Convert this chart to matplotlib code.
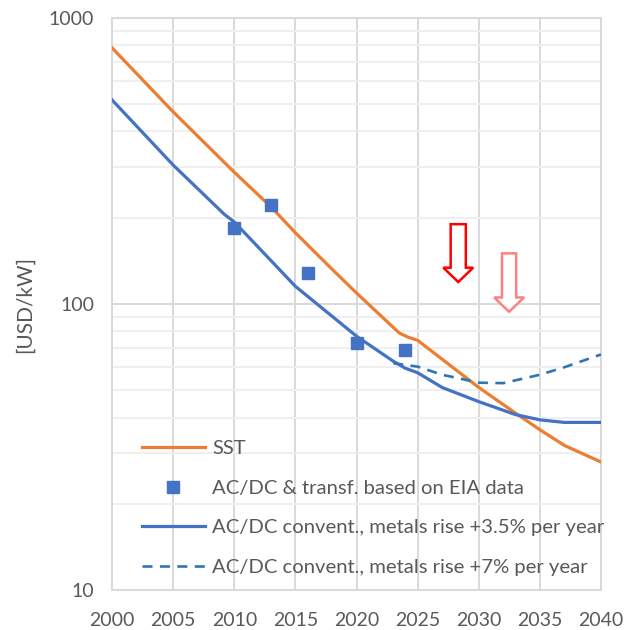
import matplotlib
matplotlib.use('Agg')
import matplotlib.pyplot as plt
from matplotlib.patches import Polygon
from matplotlib.ticker import FixedLocator, NullFormatter, LogLocator

plt.rcParams['font.family'] = ['Lato', 'DejaVu Sans']

# data
sst_year = [2000, 2005, 2010, 2013, 2015, 2018, 2020, 2023.5, 2024.2, 2025, 2030, 2033, 2035, 2037, 2040]
sst_cost = [783, 468, 288, 218, 177, 132, 109, 79, 76.5, 74.5, 51, 41.5, 36.3, 32, 28]

eia_year = [2010, 2013, 2016, 2020, 2024]
eia_cost = [184, 222, 128, 73, 69]

conv35_year = [2000, 2005, 2009.2, 2010, 2015, 2020, 2023, 2024, 2025, 2027, 2030, 2033, 2035, 2037, 2040]
conv35_cost = [515, 305, 205, 193, 115, 77, 63, 59.5, 57.4, 51, 45.5, 41, 39.3, 38.5, 38.5]

conv7_year = [2023, 2025, 2027, 2030, 2032, 2035, 2037, 2040]
conv7_cost = [62, 60.3, 56.5, 53, 52.8, 56.5, 60, 66.5]

x_ticks = [2000, 2005, 2010, 2015, 2020, 2025, 2030, 2035, 2040]

grey_txt = '#595959'
grid_c = '#d9d9d9'

fig = plt.figure(figsize=(6.37, 6.30), dpi=100)
ax = fig.add_axes([0.176, 0.0635, 0.7675, 0.9087])

ax.plot(sst_year, sst_cost, color='#ED7D31', lw=2.3, label='SST', zorder=3)
ax.plot(eia_year, eia_cost, 's', color='#4472C4', ms=8.6, ls='none',
        label='AC/DC & transf. based on EIA data', zorder=4)
ax.plot(conv35_year, conv35_cost, color='#4472C4', lw=2.3,
        label='AC/DC convent., metals rise +3.5% per year', zorder=3)
ax.plot(conv7_year, conv7_cost, color='#2E75B6', lw=1.9, ls=(0, (3.8, 2.8)),
        label='AC/DC convent., metals rise +7% per year', zorder=3)

ax.set_yscale('log')
ax.set_ylim(10, 1000)
ax.set_xlim(2000, 2040)
ax.xaxis.set_major_locator(FixedLocator(x_ticks))
ax.set_yticks([10, 100, 1000])
ax.set_yticklabels(['10', '100', '1000'])
ax.yaxis.set_minor_locator(LogLocator(base=10, subs=range(2, 10)))
ax.yaxis.set_minor_formatter(NullFormatter())

ax.grid(True, which='major', color=grid_c, lw=1.4)
ax.grid(True, which='minor', axis='y', color='#efefef', lw=1.4)
ax.set_axisbelow(True)
for s in ax.spines.values():
    s.set_color(grid_c)
    s.set_linewidth(1.4)
ax.tick_params(which='both', length=0, labelsize=14, colors=grey_txt)
ax.tick_params(axis='x', pad=15.5)
ax.tick_params(axis='y', pad=13)
fig.text(25 / 637, 1 - 304 / 630, '[USD/kW]', rotation=90, fontsize=15,
         color=grey_txt, ha='center', va='center')

# down arrows (annotation marks, axes fraction)
def block_arrow(xc, ytop, ybot, shaft_w, head_w, head_h, color):
    pts = [(xc - shaft_w / 2, ytop), (xc + shaft_w / 2, ytop),
           (xc + shaft_w / 2, ybot + head_h), (xc + head_w / 2, ybot + head_h),
           (xc, ybot), (xc - head_w / 2, ybot + head_h),
           (xc - shaft_w / 2, ybot + head_h)]
    ax.add_patch(Polygon(pts, closed=True, transform=ax.transAxes,
                         facecolor='white', edgecolor=color, lw=1.8, zorder=5))

block_arrow(0.708, 0.639, 0.538, 0.031, 0.061, 0.025, '#FF0000')
block_arrow(0.812, 0.588, 0.486, 0.029, 0.061, 0.025, '#FF8080')

leg = ax.legend(loc='lower left', bbox_to_anchor=(0.061, 0.025), frameon=False,
                fontsize=14.6, labelcolor=grey_txt, handlelength=3.1,
                handletextpad=0.35, labelspacing=1.1, borderaxespad=0,
                borderpad=0)

fig.savefig('out.png', dpi=100)
